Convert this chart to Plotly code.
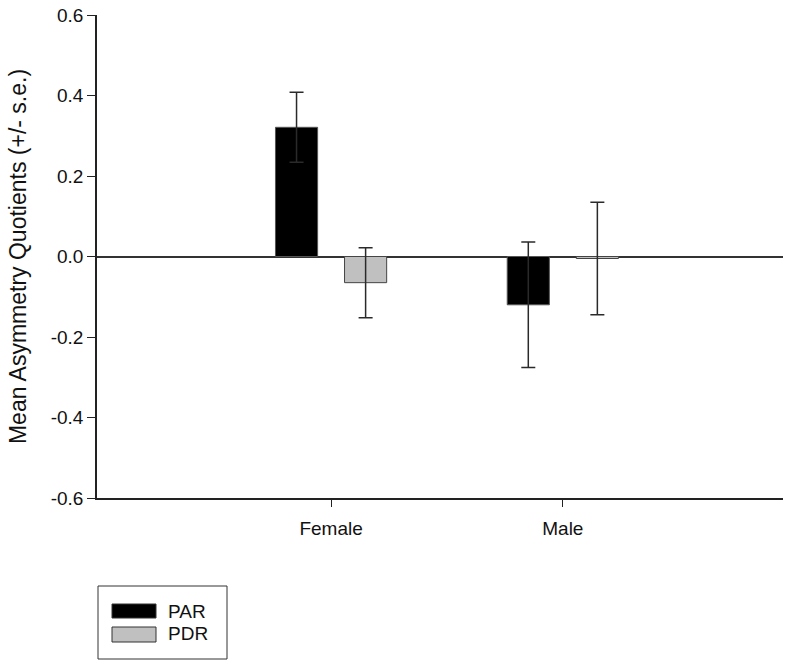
import plotly.graph_objects as go

categories = ["Female", "Male"]
par_values = [0.321, -0.120]
par_se = [0.087, 0.156]
pdr_values = [-0.065, -0.005]
pdr_se = [0.087, 0.140]
y_ticks = [-0.6, -0.4, -0.2, 0.0, 0.2, 0.4, 0.6]
y_ticklabels = ["-0.6", "-0.4", "-0.2", "0.0", "0.2", "0.4", "0.6"]
series_names = ["PAR", "PDR"]

W, H = 800, 670
L, T = 97, 15
PW, PH = 686, 483
R, B = W - L - PW, H - T - PH

def px(x):
    return (x - L) / PW

def py(y):
    return (T + PH - y) / PH

FONT = "Liberation Sans, Arial, sans-serif"
err_style = dict(type="data", thickness=1.5, width=7, color="#2a2a2a")

fig = go.Figure()
fig.add_trace(go.Bar(
    x=categories, y=par_values, name=series_names[0],
    marker=dict(color="#000000", line=dict(color="#555555", width=1)),
    error_y=dict(array=par_se, **err_style),
))
fig.add_trace(go.Bar(
    x=categories, y=pdr_values, name=series_names[1],
    marker=dict(color="#c0c0c0", line=dict(color="#444444", width=1)),
    error_y=dict(array=pdr_se, **err_style),
))

# legend drawn as box + swatches + text
shapes = [
    dict(type="rect", xref="paper", yref="paper", x0=px(98), x1=px(227), y0=py(659), y1=py(586),
         line=dict(color="#333333", width=1), fillcolor="white"),
    dict(type="rect", xref="paper", yref="paper", x0=px(112), x1=px(156), y0=py(618), y1=py(604),
         line=dict(color="#333333", width=1), fillcolor="#000000"),
    dict(type="rect", xref="paper", yref="paper", x0=px(112), x1=px(156), y0=py(642), y1=py(627),
         line=dict(color="#333333", width=1), fillcolor="#c0c0c0"),
]
annotations = [
    dict(xref="paper", yref="paper", x=px(166), y=py(611.5), text=series_names[0], showarrow=False,
         xanchor="left", yanchor="middle", font=dict(family=FONT, size=19, color="#111111")),
    dict(xref="paper", yref="paper", x=px(166), y=py(633.5), text=series_names[1], showarrow=False,
         xanchor="left", yanchor="middle", font=dict(family=FONT, size=19, color="#111111")),
]

fig.update_layout(
    width=W, height=H,
    margin=dict(l=L, r=R, t=T, b=B, pad=0),
    paper_bgcolor="white", plot_bgcolor="white",
    barmode="group", bargap=0.404, bargroupgap=0.39,
    showlegend=False,
    font=dict(family=FONT, size=19, color="#111111"),
    shapes=shapes, annotations=annotations,
    xaxis=dict(
        range=[-1.01, 1.95], showgrid=False, zeroline=False, automargin=False,
        showline=True, linecolor="#222222", linewidth=1.5,
        ticks="outside", ticklen=7, tickcolor="#222222", tickwidth=1,
        ticklabelstandoff=5,
        tickfont=dict(family=FONT, size=19, color="#111111"),
    ),
    yaxis=dict(
        range=[-0.6, 0.6], tickvals=y_ticks, ticktext=y_ticklabels, automargin=False,
        showgrid=False, zeroline=True, zerolinecolor="#333333", zerolinewidth=1.5,
        showline=True, linecolor="#222222", linewidth=1.5,
        ticks="outside", ticklen=8, tickcolor="#222222", tickwidth=1,
        layer="above traces",
        tickfont=dict(family=FONT, size=19, color="#111111"),
        title=dict(text="Mean Asymmetry Quotients (+/- s.e.)", standoff=18,
                   font=dict(family=FONT, size=23, color="#111111")),
    ),
)

# remove the default page margin so the 800x670 figure fills the window exactly
fig.write_html("out.html", config={"displayModeBar": False},
               post_script="document.body.style.margin='0';")
